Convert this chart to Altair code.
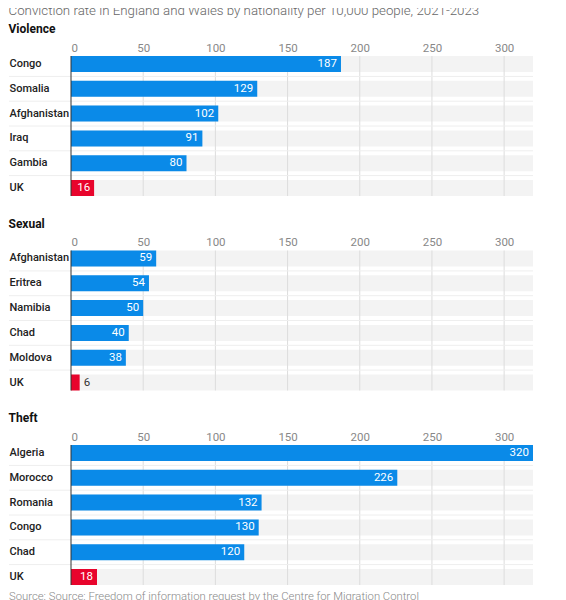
import altair as alt
import pandas as pd

title_text = "Conviction rate in England and Wales by nationality per 10,000 people, 2021-2023"
source_text = "Source: Source: Freedom of information request by the Centre for Migration Control"

violence_countries = ["Congo", "Somalia", "Afghanistan", "Iraq", "Gambia", "UK"]
violence_values = [187, 129, 102, 91, 80, 16]
sexual_countries = ["Afghanistan", "Eritrea", "Namibia", "Chad", "Moldova", "UK"]
sexual_values = [59, 54, 50, 40, 38, 6]
theft_countries = ["Algeria", "Morocco", "Romania", "Congo", "Chad", "UK"]
theft_values = [320, 226, 132, 130, 120, 18]
x_ticks = [0, 50, 100, 150, 200, 250, 300]
x_max = 320

FONT = "Roboto"
BLUE = "#0a8ae8"
RED = "#e8042c"


def panel(name, countries, values, footer=None):
    df = pd.DataFrame({
        "country": countries,
        "value": values,
        "max": [x_max] * len(countries),
        "kind": ["uk" if c == "UK" else "other" for c in countries],
        "order": list(range(len(countries))),
    })
    ticks_df = pd.DataFrame({"tick": x_ticks})
    xscale = alt.Scale(domain=[0, x_max], nice=False, zero=True)
    y = alt.Y(
        "country:N", sort=countries,
        scale=alt.Scale(paddingInner=0.355, paddingOuter=0),
        axis=alt.Axis(title=None, orient="left", labelAlign="left", labelPadding=62,
                      ticks=False, domain=False, labelFont=FONT, labelFontSize=11,
                      labelColor="#222", labelFontWeight=500),
    )
    base = alt.Chart(df)
    bg = base.mark_bar(color="#f3f3f3").encode(
        x=alt.X("max:Q", scale=xscale,
                axis=alt.Axis(title=None, orient="top", values=x_ticks, grid=False,
                              ticks=False, domain=False, labelColor="#888",
                              labelFont=FONT, labelFontSize=11.5, labelPadding=3)),
        y=y,
    )
    grid = alt.Chart(ticks_df).transform_filter("datum.tick > 0").mark_rule(
        color="#dcdcdc", strokeWidth=1).encode(x=alt.X("tick:Q", scale=xscale))
    sep = base.transform_filter("datum.order > 0").mark_rule(
        color="#eeeeee", strokeWidth=1, yOffset=-12.4).encode(
        y=y, x=alt.value(-62), x2=alt.value(462))
    bars = base.mark_bar().encode(
        x=alt.X("value:Q", scale=xscale),
        y=y,
        color=alt.Color("kind:N", scale=alt.Scale(domain=["other", "uk"], range=[BLUE, RED]),
                        legend=None),
    )
    zero = alt.Chart(ticks_df).transform_filter("datum.tick == 0").mark_rule(
        color="#333", strokeWidth=1).encode(x=alt.X("tick:Q", scale=xscale))
    txt_in = base.transform_filter("datum.value >= 10").mark_text(
        align="right", dx=-4, color="white", font=FONT, fontSize=11.5).encode(
        x=alt.X("value:Q", scale=xscale), y=y, text="value:Q")
    txt_out = base.transform_filter("datum.value < 10").mark_text(
        align="left", dx=4, color="#333", font=FONT, fontSize=11.5).encode(
        x=alt.X("value:Q", scale=xscale), y=y, text="value:Q")
    layers = [bg, grid, sep, bars, zero, txt_in, txt_out]
    if footer:
        foot = alt.Chart(pd.DataFrame({"t": [footer]})).mark_text(
            align="left", baseline="top", font="Roboto", fontSize=11.3, fontWeight=300,
            color="#888").encode(text="t:N", x=alt.value(-62), y=alt.value(146))
        layers.append(foot)
    return alt.layer(*layers).properties(
        width=462, height=140,
        title=alt.TitleParams(name, anchor="start", frame="bounds", font=FONT,
                              fontSize=12, fontWeight="bold", color="#111", offset=6),
    )


chart = alt.vconcat(
    panel("Violence", violence_countries, violence_values),
    panel("Sexual", sexual_countries, sexual_values),
    panel("Theft", theft_countries, theft_values, footer=source_text),
    spacing=20.5,
).properties(
    title=alt.TitleParams(title_text, anchor="start", frame="bounds", font="Roboto",
                          fontSize=13.3, fontWeight=300, color="#666", offset=6),
    padding={"left": 0, "top": -5, "right": 0, "bottom": 0},
).configure_view(stroke=None)

chart.save("out.html", embed_options={"renderer": "svg", "actions": False})
